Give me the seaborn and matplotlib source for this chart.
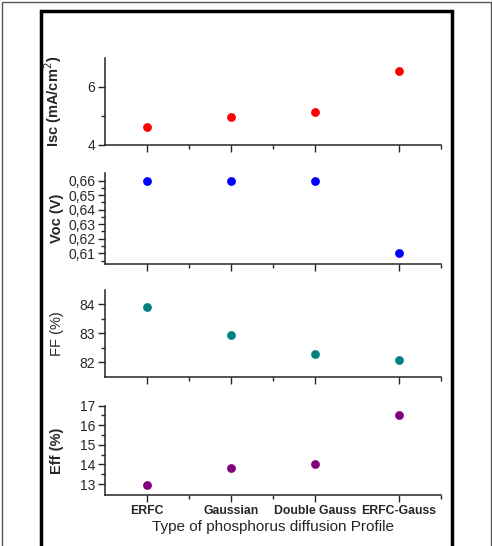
import pandas as pd
import seaborn as sns
from matplotlib import pyplot as plt
from matplotlib.patches import Rectangle
from matplotlib.ticker import FixedLocator, FuncFormatter

# values
profiles = ['ERFC', 'Gaussian', 'Double Gauss', 'ERFC-Gauss']
isc = [4.63, 4.98, 5.13, 6.54]
voc = [0.66, 0.66, 0.66, 0.61]
ff = [83.9, 82.95, 82.3, 82.09]
eff = [12.95, 13.80, 14.03, 16.54]

sns.set_style('ticks')
plt.rcParams['font.family'] = ['Liberation Sans', 'DejaVu Sans']

df = pd.DataFrame({'profile': profiles, 'pos': range(len(profiles)),
                   'Isc': isc, 'Voc': voc, 'FF': ff, 'Eff': eff})

fig = plt.figure(figsize=(4.92, 5.46), dpi=100)

# outer frames
fig.add_artist(Rectangle((2 / 492, -0.05), 489 / 492, 1.05 - 2 / 546, transform=fig.transFigure,
                         fill=False, edgecolor='#555555', linewidth=1.0))
fig.add_artist(Rectangle((41 / 492, -0.05), 411 / 492, 1.05 - 11 / 546, transform=fig.transFigure,
                         fill=False, edgecolor='black', linewidth=2.5))

left, width = 105 / 492, 336 / 492
panels = [
    ('Isc', 'red', 'Isc (mA/cm$^2$)', 'bold', (145, 58), (4, 7), [4, 6], [5], '{:g}'),
    ('Voc', 'blue', 'Voc (V)', 'bold', (264, 173), (0.6026, 0.6653),
     [0.61, 0.62, 0.63, 0.64, 0.65, 0.66],
     [0.605, 0.615, 0.625, 0.635, 0.645, 0.655], '{:.2f}'),
    ('FF', '#008080', 'FF (%)', 'normal', (377.3, 290), (81.48, 84.49), [82, 83, 84], [82.5, 83.5], '{:g}'),
    ('Eff', '#800080', 'Eff (%)', 'bold', (495, 405.7), (12.44, 17.0), [13, 14, 15, 16, 17],
     [13.5, 14.5, 15.5, 16.5], '{:g}'),
]

for i, (col, color, label, weight, (ybot, ytop), ylim, major, minor, fmt) in enumerate(panels):
    ax = fig.add_axes([left, 1 - ybot / 546, width, (ybot - ytop) / 546])
    sns.scatterplot(data=df, x='pos', y=col, ax=ax, color=color, s=40, edgecolor=color,
                    linewidth=0, zorder=3)
    ax.set_xlim(-0.5, 3.5)
    ax.set_ylim(*ylim)
    sns.despine(ax=ax)
    ax.set_xticks(range(len(profiles)))
    ax.xaxis.set_minor_locator(FixedLocator([0.5, 1.5, 3.5]))
    ax.yaxis.set_major_locator(FixedLocator(major))
    ax.yaxis.set_minor_locator(FixedLocator(minor))
    ax.yaxis.set_major_formatter(FuncFormatter(lambda v, p, f=fmt: f.format(v).replace('.', ',')))
    ax.tick_params(which='major', length=5, width=1, labelsize=10, pad=2)
    ax.tick_params(which='minor', length=3, width=1)
    for s in ax.spines.values():
        s.set_linewidth(1.1)
    ax.set_ylabel(label, fontsize=10.5, fontweight=weight)
    ax.yaxis.set_label_coords(-0.122, 0.5)
    if i < 3:
        ax.set_xticklabels([])
        ax.set_xlabel('')
    else:
        ax.set_xticklabels(profiles, fontsize=8.8, fontweight='bold')
        ax.set_xlabel('Type of phosphorus diffusion Profile', fontsize=11, labelpad=2)

fig.savefig('out.png', dpi=100)
